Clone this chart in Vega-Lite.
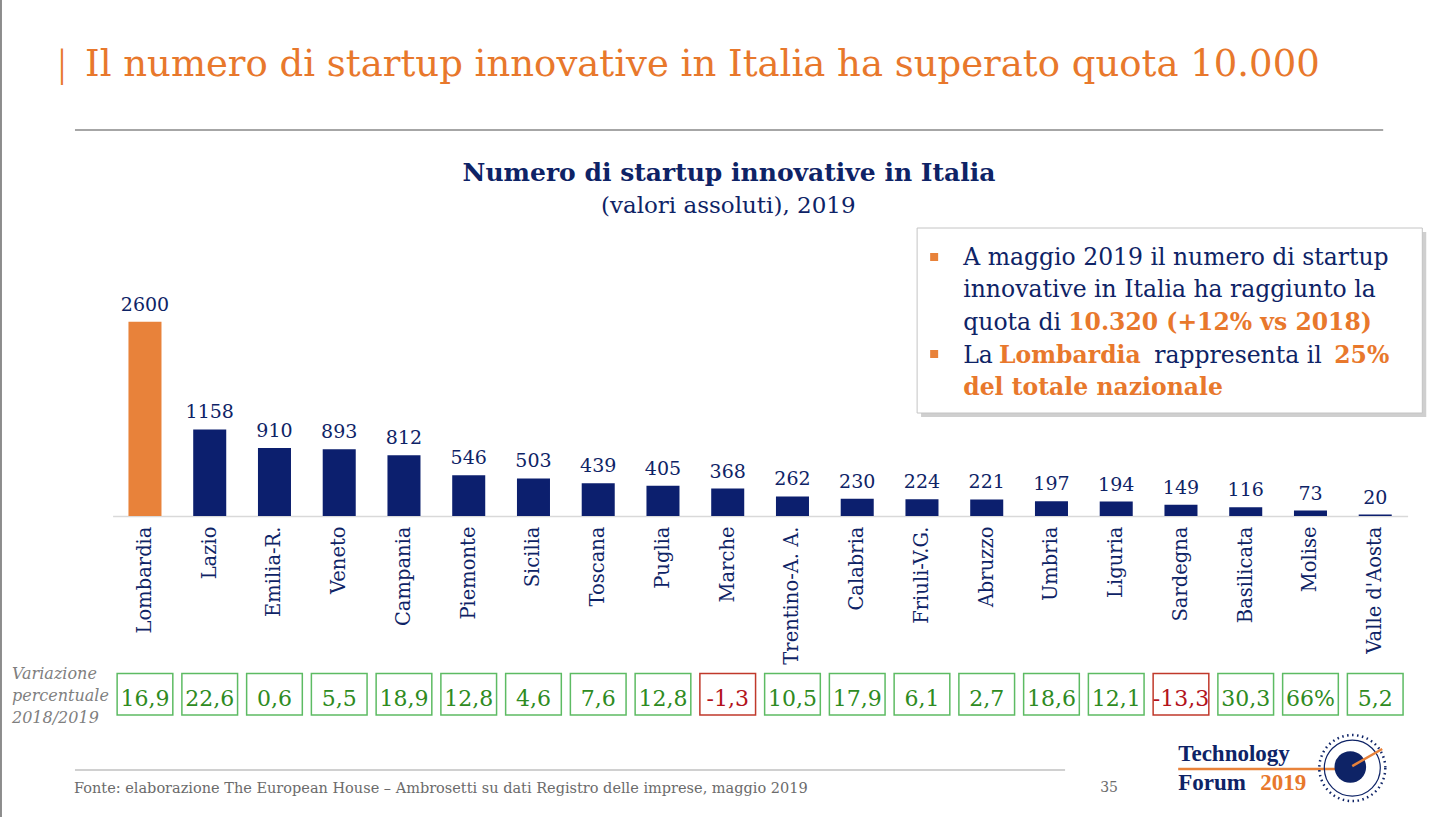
{
  "$schema": "https://vega.github.io/schema/vega-lite/v6.json",
  "autosize": {"type": "none"},
  "padding": {"left": 112.6, "top": 228, "right": 45.4, "bottom": 301},
  "width": 1295,
  "height": 288,
  "background": "#FFFFFF",
  "config": {"view": {"stroke": null}},
  "resolve": {"scale": {"x": "independent"}},
  "layer": [
    {
      "data": {"values": [
        {"regione": "Lombardia", "n": 2600, "var": 16.9, "var_txt": "16,9"},
        {"regione": "Lazio", "n": 1158, "var": 22.6, "var_txt": "22,6"},
        {"regione": "Emilia-R.", "n": 910, "var": 0.6, "var_txt": "0,6"},
        {"regione": "Veneto", "n": 893, "var": 5.5, "var_txt": "5,5"},
        {"regione": "Campania", "n": 812, "var": 18.9, "var_txt": "18,9"},
        {"regione": "Piemonte", "n": 546, "var": 12.8, "var_txt": "12,8"},
        {"regione": "Sicilia", "n": 503, "var": 4.6, "var_txt": "4,6"},
        {"regione": "Toscana", "n": 439, "var": 7.6, "var_txt": "7,6"},
        {"regione": "Puglia", "n": 405, "var": 12.8, "var_txt": "12,8"},
        {"regione": "Marche", "n": 368, "var": -1.3, "var_txt": "-1,3"},
        {"regione": "Trentino-A. A.", "n": 262, "var": 10.5, "var_txt": "10,5"},
        {"regione": "Calabria", "n": 230, "var": 17.9, "var_txt": "17,9"},
        {"regione": "Friuli-V.G.", "n": 224, "var": 6.1, "var_txt": "6,1"},
        {"regione": "Abruzzo", "n": 221, "var": 2.7, "var_txt": "2,7"},
        {"regione": "Umbria", "n": 197, "var": 18.6, "var_txt": "18,6"},
        {"regione": "Liguria", "n": 194, "var": 12.1, "var_txt": "12,1"},
        {"regione": "Sardegna", "n": 149, "var": -13.3, "var_txt": "-13,3"},
        {"regione": "Basilicata", "n": 116, "var": 30.3, "var_txt": "30,3"},
        {"regione": "Molise", "n": 73, "var": 66, "var_txt": "66%"},
        {"regione": "Valle d'Aosta", "n": 20, "var": 5.2, "var_txt": "5,2"}
      ]},
      "layer": [
        {
          "mark": {"type": "bar", "width": {"band": 0.51}},
          "encoding": {
            "x": {"field": "regione", "type": "nominal", "sort": null, "title": null,
                  "scale": {"paddingInner": 0, "paddingOuter": 0},
                  "axis": {"labelAngle": -90, "labelFont": "DejaVu Serif", "labelFontSize": 19.5,
                           "labelColor": "#0E2366", "labelPadding": 10, "ticks": false,
                           "domainColor": "#D9D9D9", "domainWidth": 1.5, "labelLimit": 300,
                           "labelOverlap": false, "grid": false}},
            "y": {"field": "n", "type": "quantitative", "axis": null,
                  "scale": {"domain": [0, 3854], "nice": false}},
            "color": {"condition": {"test": "datum.regione === 'Lombardia'", "value": "#E8823A"}, "value": "#0C1F6E"}
          }
        },
        {
          "mark": {"type": "text", "font": "DejaVu Serif", "fontSize": 19, "color": "#0E2366",
                   "baseline": "alphabetic", "dy": -11},
          "encoding": {
            "x": {"field": "regione", "type": "nominal", "sort": null},
            "y": {"field": "n", "type": "quantitative", "axis": null},
            "text": {"field": "n", "type": "quantitative", "format": "d"}
          }
        },
        {
          "mark": {"type": "bar", "width": {"band": 0.86}, "fill": "#FFFFFF", "strokeWidth": 1.5},
          "encoding": {
            "x": {"field": "regione", "type": "nominal", "sort": null},
            "y": {"datum": -2109, "type": "quantitative", "axis": null},
            "y2": {"datum": -2663},
            "stroke": {"condition": {"test": "datum['var'] < 0", "value": "#C0392B"}, "value": "#5DBB63"}
          }
        },
        {
          "mark": {"type": "text", "font": "DejaVu Serif", "fontSize": 22, "baseline": "alphabetic"},
          "encoding": {
            "x": {"field": "regione", "type": "nominal", "sort": null},
            "y": {"datum": -2543, "type": "quantitative", "axis": null},
            "text": {"field": "var_txt", "type": "nominal"},
            "color": {"condition": {"test": "datum['var'] < 0", "value": "#B3131B"}, "value": "#2E8B22"}
          }
        }
      ]
    },
    {
      "data": {"values": [{}]},
      "layer": [
        {"mark": {"type": "rule", "color": "#8C8C8C", "strokeWidth": 2},
         "encoding": {"x": {"datum": -1.724, "type": "quantitative", "axis": null, "scale": {"domain": [0, 20], "nice": false}},
                      "y": {"datum": 6905, "type": "quantitative", "axis": null}, "y2": {"datum": -4028}}},
        {"mark": {"type": "text", "text": "|", "font": "Liberation Serif", "fontSize": 40, "color": "#E8782C", "align": "left", "baseline": "alphabetic"},
         "encoding": {"x": {"datum": -0.843, "type": "quantitative", "axis": null},
                      "y": {"datum": 5888, "type": "quantitative", "axis": null}}},
        {"mark": {"type": "text", "text": "Il numero di startup innovative in Italia ha superato quota 10.000", "font": "DejaVu Serif", "fontSize": 37, "color": "#E8782C", "align": "left", "baseline": "alphabetic"},
         "encoding": {"x": {"datum": -0.426, "type": "quantitative", "axis": null},
                      "y": {"datum": 5888, "type": "quantitative", "axis": null}}},
        {"mark": {"type": "rule", "color": "#A6A6A6", "strokeWidth": 2},
         "encoding": {"x": {"datum": -0.581, "type": "quantitative", "axis": null}, "x2": {"datum": 19.623},
                      "y": {"datum": 5165, "type": "quantitative", "axis": null}}},
        {"mark": {"type": "text", "text": "Numero di startup innovative in Italia", "font": "DejaVu Serif", "fontSize": 25, "fontWeight": "bold", "color": "#0E2366", "align": "center", "baseline": "alphabetic"},
         "encoding": {"x": {"datum": 9.52, "type": "quantitative", "axis": null},
                      "y": {"datum": 4483, "type": "quantitative", "axis": null}}},
        {"mark": {"type": "text", "text": "(valori assoluti), 2019", "font": "DejaVu Serif", "fontSize": 23, "color": "#0E2366", "align": "center", "baseline": "alphabetic"},
         "encoding": {"x": {"datum": 9.508, "type": "quantitative", "axis": null},
                      "y": {"datum": 4055, "type": "quantitative", "axis": null}}},
        {"mark": {"type": "rect", "fill": "#CFCFCF"},
         "encoding": {"x": {"datum": 12.486, "type": "quantitative", "axis": null}, "x2": {"datum": 20.288},
                      "y": {"datum": 3800, "type": "quantitative", "axis": null}, "y2": {"datum": 1325}}},
        {"mark": {"type": "rect", "fill": "#FFFFFF", "stroke": "#C4C4C4", "strokeWidth": 1},
         "encoding": {"x": {"datum": 12.425, "type": "quantitative", "axis": null}, "x2": {"datum": 20.227},
                      "y": {"datum": 3854, "type": "quantitative", "axis": null}, "y2": {"datum": 1378}}},
        {"mark": {"type": "point", "shape": "square", "filled": true, "size": 64, "color": "#E8823A", "opacity": 1},
         "encoding": {"x": {"datum": 12.688, "type": "quantitative", "axis": null},
                      "y": {"datum": 3466, "type": "quantitative", "axis": null}}},
        {"mark": {"type": "point", "shape": "square", "filled": true, "size": 64, "color": "#E8823A", "opacity": 1},
         "encoding": {"x": {"datum": 12.688, "type": "quantitative", "axis": null},
                      "y": {"datum": 2168, "type": "quantitative", "axis": null}}},
        {"mark": {"type": "text", "text": "A maggio 2019 il numero di startup", "font": "DejaVu Serif", "fontSize": 23.5, "color": "#0E2366", "align": "left", "baseline": "alphabetic"},
         "encoding": {"x": {"datum": 13.137, "type": "quantitative", "axis": null},
                      "y": {"datum": 3359, "type": "quantitative", "axis": null}}},
        {"mark": {"type": "text", "text": "innovative in Italia ha raggiunto la", "font": "DejaVu Serif", "fontSize": 23.5, "color": "#0E2366", "align": "left", "baseline": "alphabetic"},
         "encoding": {"x": {"datum": 13.137, "type": "quantitative", "axis": null},
                      "y": {"datum": 2924, "type": "quantitative", "axis": null}}},
        {"mark": {"type": "text", "text": "quota di", "font": "DejaVu Serif", "fontSize": 23.5, "color": "#0E2366", "align": "left", "baseline": "alphabetic"},
         "encoding": {"x": {"datum": 13.137, "type": "quantitative", "axis": null},
                      "y": {"datum": 2489, "type": "quantitative", "axis": null}}},
        {"mark": {"type": "text", "text": "10.320 (+12% vs 2018)", "font": "DejaVu Serif", "fontSize": 23.5, "fontWeight": "bold", "color": "#E8782C", "align": "left", "baseline": "alphabetic"},
         "encoding": {"x": {"datum": 14.758, "type": "quantitative", "axis": null},
                      "y": {"datum": 2489, "type": "quantitative", "axis": null}}},
        {"mark": {"type": "text", "text": "La", "font": "DejaVu Serif", "fontSize": 23.5, "color": "#0E2366", "align": "left", "baseline": "alphabetic"},
         "encoding": {"x": {"datum": 13.137, "type": "quantitative", "axis": null},
                      "y": {"datum": 2054, "type": "quantitative", "axis": null}}},
        {"mark": {"type": "text", "text": "Lombardia", "font": "DejaVu Serif", "fontSize": 23.5, "fontWeight": "bold", "color": "#E8782C", "align": "left", "baseline": "alphabetic"},
         "encoding": {"x": {"datum": 13.69, "type": "quantitative", "axis": null},
                      "y": {"datum": 2054, "type": "quantitative", "axis": null}}},
        {"mark": {"type": "text", "text": "rappresenta il", "font": "DejaVu Serif", "fontSize": 23.5, "color": "#0E2366", "align": "left", "baseline": "alphabetic"},
         "encoding": {"x": {"datum": 16.086, "type": "quantitative", "axis": null},
                      "y": {"datum": 2054, "type": "quantitative", "axis": null}}},
        {"mark": {"type": "text", "text": "25%", "font": "DejaVu Serif", "fontSize": 23.5, "fontWeight": "bold", "color": "#E8782C", "align": "left", "baseline": "alphabetic"},
         "encoding": {"x": {"datum": 18.866, "type": "quantitative", "axis": null},
                      "y": {"datum": 2054, "type": "quantitative", "axis": null}}},
        {"mark": {"type": "text", "text": "del totale nazionale", "font": "DejaVu Serif", "fontSize": 23.5, "fontWeight": "bold", "color": "#E8782C", "align": "left", "baseline": "alphabetic"},
         "encoding": {"x": {"datum": 13.137, "type": "quantitative", "axis": null},
                      "y": {"datum": 1619, "type": "quantitative", "axis": null}}},
        {"mark": {"type": "text", "text": "Variazione", "font": "DejaVu Serif", "fontSize": 16, "fontStyle": "italic", "color": "#7F7F7F", "align": "left", "baseline": "alphabetic"},
         "encoding": {"x": {"datum": -1.554, "type": "quantitative", "axis": null},
                      "y": {"datum": -2181, "type": "quantitative", "axis": null}}},
        {"mark": {"type": "text", "text": "percentuale", "font": "DejaVu Serif", "fontSize": 16, "fontStyle": "italic", "color": "#7F7F7F", "align": "left", "baseline": "alphabetic"},
         "encoding": {"x": {"datum": -1.554, "type": "quantitative", "axis": null},
                      "y": {"datum": -2476, "type": "quantitative", "axis": null}}},
        {"mark": {"type": "text", "text": "2018/2019", "font": "DejaVu Serif", "fontSize": 16, "fontStyle": "italic", "color": "#7F7F7F", "align": "left", "baseline": "alphabetic"},
         "encoding": {"x": {"datum": -1.554, "type": "quantitative", "axis": null},
                      "y": {"datum": -2770, "type": "quantitative", "axis": null}}},
        {"mark": {"type": "rule", "color": "#D0D0D0", "strokeWidth": 2},
         "encoding": {"x": {"datum": -0.581, "type": "quantitative", "axis": null}, "x2": {"datum": 14.71},
                      "y": {"datum": -3399, "type": "quantitative", "axis": null}}},
        {"mark": {"type": "text", "text": "Fonte: elaborazione The European House – Ambrosetti su dati Registro delle imprese, maggio 2019", "font": "DejaVu Serif", "fontSize": 14.5, "color": "#6B6B6B", "align": "left", "baseline": "alphabetic"},
         "encoding": {"x": {"datum": -0.596, "type": "quantitative", "axis": null},
                      "y": {"datum": -3707, "type": "quantitative", "axis": null}}},
        {"mark": {"type": "text", "text": "35", "font": "DejaVu Serif", "fontSize": 14, "color": "#6B6B6B", "align": "left", "baseline": "alphabetic"},
         "encoding": {"x": {"datum": 15.252, "type": "quantitative", "axis": null},
                      "y": {"datum": -3693, "type": "quantitative", "axis": null}}},
        {"mark": {"type": "text", "text": "Technology", "font": "Liberation Serif", "fontSize": 23, "fontWeight": "bold", "color": "#0E2366", "align": "left", "baseline": "alphabetic"},
         "encoding": {"x": {"datum": 16.457, "type": "quantitative", "axis": null},
                      "y": {"datum": -3279, "type": "quantitative", "axis": null}}},
        {"mark": {"type": "rule", "color": "#E8823A", "strokeWidth": 2.5},
         "encoding": {"x": {"datum": 16.457, "type": "quantitative", "axis": null}, "x2": {"datum": 18.96},
                      "y": {"datum": -3386, "type": "quantitative", "axis": null}}},
        {"mark": {"type": "text", "text": "Forum", "font": "Liberation Serif", "fontSize": 23, "fontWeight": "bold", "color": "#0E2366", "align": "left", "baseline": "alphabetic"},
         "encoding": {"x": {"datum": 16.457, "type": "quantitative", "axis": null},
                      "y": {"datum": -3667, "type": "quantitative", "axis": null}}},
        {"mark": {"type": "text", "text": "2019", "font": "Liberation Serif", "fontSize": 23, "fontWeight": "bold", "color": "#E8782C", "align": "left", "baseline": "alphabetic"},
         "encoding": {"x": {"datum": 17.723, "type": "quantitative", "axis": null},
                      "y": {"datum": -3667, "type": "quantitative", "axis": null}}},
        {"mark": {"type": "point", "shape": "circle", "filled": false, "size": 4356, "stroke": "#0E2366", "strokeWidth": 2.5, "strokeDash": [1.5, 3.5], "opacity": 1},
         "encoding": {"x": {"datum": 19.146, "type": "quantitative", "axis": null},
                      "y": {"datum": -3373, "type": "quantitative", "axis": null}}},
        {"mark": {"type": "point", "shape": "circle", "filled": false, "size": 3136, "stroke": "#0E2366", "strokeWidth": 1.2, "opacity": 1},
         "encoding": {"x": {"datum": 19.146, "type": "quantitative", "axis": null},
                      "y": {"datum": -3373, "type": "quantitative", "axis": null}}},
        {"mark": {"type": "point", "shape": "circle", "filled": true, "size": 1000, "color": "#0E2366", "opacity": 1},
         "encoding": {"x": {"datum": 19.115, "type": "quantitative", "axis": null},
                      "y": {"datum": -3359, "type": "quantitative", "axis": null}}},
        {"mark": {"type": "rule", "color": "#E8823A", "strokeWidth": 2.5},
         "encoding": {"x": {"datum": 19.145, "type": "quantitative", "axis": null}, "x2": {"datum": 19.608},
                      "y": {"datum": -3346, "type": "quantitative", "axis": null}, "y2": {"datum": -3118}}}
      ]
    }
  ]
}
